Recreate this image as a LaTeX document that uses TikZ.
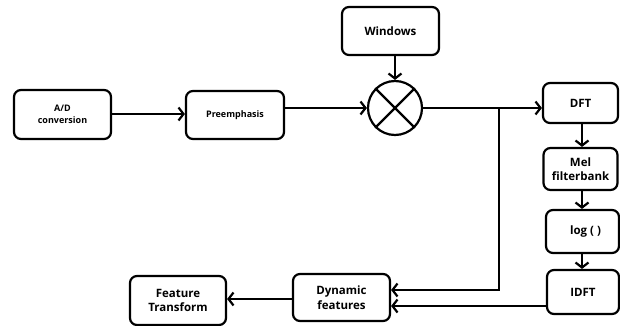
\documentclass[tikz,border=0pt]{standalone}
\usepackage{fontspec}
\setmainfont{Open Sans}
\usetikzlibrary{arrows.meta}
\begin{document}
\begin{tikzpicture}[x=1pt,y=-1pt,
  box/.style={draw, line width=2.2pt, rounded corners=7pt, align=center,
    font=\bfseries\fontsize{11.5}{14.5}\selectfont, inner sep=0pt},
  smallbox/.style={box, font=\bfseries\fontsize{9}{12}\selectfont},
  flow/.style={line width=2.2pt, -{Straight Barb[length=5pt,width=13pt,line width=2.2pt]}},
  wire/.style={line width=2.2pt}]
\useasboundingbox (0,0) rectangle (620,326);
% processing blocks
\node[smallbox, minimum width=97pt, minimum height=49pt] (ad) at (62.5,114.5) {A/D\\conversion};
\node[smallbox, minimum width=98pt, minimum height=48pt] (pre) at (235,115) {Preemphasis};
\node[box, minimum width=97pt, minimum height=48pt] (win) at (390.5,31) {Windows};
\node[draw, circle, line width=2.2pt, minimum size=54pt, inner sep=0pt] (mul) at (395,108) {};
\draw[wire] (mul.north west) -- (mul.south east);
\draw[wire] (mul.north east) -- (mul.south west);
\node[box, minimum width=75pt, minimum height=40pt] (dft) at (580.5,103) {DFT};
\node[box, minimum width=74pt, minimum height=42pt] (mel) at (580.5,169) {Mel\\filterbank};
\node[box, minimum width=73pt, minimum height=43pt] (log) at (582.5,231.5) {\hspace*{6pt}log ( )};
\node[box, minimum width=72pt, minimum height=44pt] (idft) at (583,292) {IDFT};
\node[box, minimum width=97pt, minimum height=47pt] (dyn) at (341.5,297.5) {Dynamic\\features};
\node[box, minimum width=96pt, minimum height=49pt] (ft) at (178,300.5) {Feature\\Transform};
% signal path
\draw[flow] (ad.east |- 0,114) -- (pre.west |- 0,114);
\draw[flow] (pre.east |- mul) -- (mul.west);
\draw[flow] (win.south -| mul) -- (mul.north);
\draw[flow] (mul.east) -- (mul.east -| dft.west);
\coordinate (tap) at (499,108);
\draw[flow] (tap) -- (499,290) -- (dyn.east |- 0,290);
\draw[flow] (dft.south -| 582,0) -- (mel.north -| 582,0);
\draw[flow] (mel.south -| 582,0) -- (log.north -| 582,0);
\draw[flow] (log.south -| 582,0) -- (idft.north -| 582,0);
\draw[flow] (idft.west |- 0,306) -- (dyn.east |- 0,306);
\draw[flow] (dyn.west |- 0,299) -- (ft.east |- 0,299);
\end{tikzpicture}
\end{document}
